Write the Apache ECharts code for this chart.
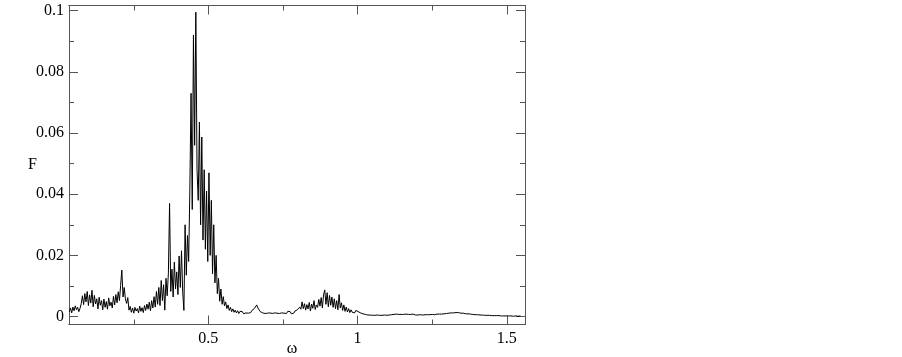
<!DOCTYPE html>
<html>
<head>
<meta charset="utf-8">
<script src="https://cdn.jsdelivr.net/npm/echarts@6/dist/echarts.min.js"></script>
<style>
html,body{margin:0;padding:0;background:#fff;}
#chart{width:902px;height:357px;}
</style>
</head>
<body>
<div id="chart"></div>
<script>
// Frequency grid of the sampled spectrum (uniform sampling in omega)
const omegaStart = 0.034;
const omegaStep = 0.004;

// Spectrum values F(omega), one per grid step
const F = [
  // 0.034 - 0.070
  0.0015, 0.0028, 0.0012, 0.0031, 0.0019, 0.0035, 0.0022, 0.0030, 0.0016, 0.0027,
  // 0.074 - 0.110
  0.0042, 0.0068, 0.0039, 0.0075, 0.0048, 0.0082, 0.0036, 0.0071, 0.0044, 0.0086,
  // 0.114 - 0.150
  0.0032, 0.0069, 0.0041, 0.0058, 0.0025, 0.0063, 0.0037, 0.0052, 0.0022, 0.0057,
  // 0.154 - 0.190
  0.0030, 0.0049, 0.0024, 0.0061, 0.0035, 0.0047, 0.0028, 0.0066, 0.0038, 0.0072,
  // 0.194 - 0.230
  0.0045, 0.0081, 0.0052, 0.0102, 0.0152, 0.0064, 0.0095, 0.0058, 0.0043, 0.0062,
  // 0.234 - 0.270
  0.0021, 0.0033, 0.0014, 0.0028, 0.0011, 0.0030, 0.0018, 0.0026, 0.0012, 0.0034,
  // 0.274 - 0.310
  0.0017, 0.0029, 0.0013, 0.0036, 0.0020, 0.0041, 0.0024, 0.0047, 0.0019, 0.0052,
  // 0.314 - 0.350
  0.0028, 0.0065, 0.0031, 0.0082, 0.0040, 0.0095, 0.0036, 0.0118, 0.0052, 0.0104,
  // 0.354 - 0.390
  0.0021, 0.0125, 0.0068, 0.0142, 0.0370, 0.0082, 0.0155, 0.0064, 0.0178, 0.0090,
  // 0.394 - 0.430
  0.0146, 0.0072, 0.0198, 0.0095, 0.0215, 0.0080, 0.0020, 0.0300, 0.0135, 0.0265,
  // 0.434 - 0.470
  0.0180, 0.0420, 0.0730, 0.0350, 0.0920, 0.0560, 0.0995, 0.0480, 0.0380, 0.0636,
  // 0.474 - 0.510
  0.0300, 0.0587, 0.0250, 0.0480, 0.0220, 0.0410, 0.0180, 0.0470, 0.0200, 0.0380,
  // 0.514 - 0.550
  0.0140, 0.0300, 0.0110, 0.0200, 0.0075, 0.0125, 0.0050, 0.0090, 0.0040, 0.0065,
  // 0.554 - 0.590
  0.0035, 0.0048, 0.0026, 0.0038, 0.0020, 0.0030, 0.0016, 0.0025, 0.0014, 0.0021,
  // 0.594 - 0.630
  0.0012, 0.0019, 0.0010, 0.0017, 0.0011, 0.0016, 0.0009, 0.0015, 0.0012, 0.0018,
  // 0.634 - 0.670
  0.0011, 0.0017, 0.0013, 0.0020, 0.0016, 0.0026, 0.0022, 0.0038, 0.0028, 0.0024,
  // 0.674 - 0.710
  0.0016, 0.0021, 0.0012, 0.0018, 0.0010, 0.0016, 0.0011, 0.0017, 0.0012, 0.0015,
  // 0.714 - 0.750
  0.0010, 0.0016, 0.0012, 0.0017, 0.0011, 0.0014, 0.0010, 0.0016, 0.0012, 0.0018,
  // 0.754 - 0.790
  0.0011, 0.0015, 0.0010, 0.0017, 0.0012, 0.0016, 0.0009, 0.0015, 0.0011, 0.0018,
  // 0.794 - 0.830
  0.0014, 0.0022, 0.0017, 0.0031, 0.0024, 0.0048, 0.0026, 0.0042, 0.0021, 0.0039,
  // 0.834 - 0.870
  0.0025, 0.0046, 0.0018, 0.0041, 0.0027, 0.0052, 0.0023, 0.0038, 0.0030, 0.0056,
  // 0.874 - 0.910
  0.0034, 0.0062, 0.0028, 0.0071, 0.0087, 0.0040, 0.0078, 0.0032, 0.0069, 0.0037,
  // 0.914 - 0.950
  0.0064, 0.0030, 0.0058, 0.0026, 0.0052, 0.0022, 0.0072, 0.0028, 0.0045, 0.0020,
  // 0.954 - 0.990
  0.0038, 0.0017, 0.0031, 0.0015, 0.0026, 0.0013, 0.0022, 0.0014, 0.0019, 0.0012,
  // 0.994 - 1.030
  0.0020, 0.0024, 0.0016, 0.0019, 0.0012, 0.0014, 0.0009, 0.0011, 0.0007, 0.0009,
  // 1.034 - 1.070
  0.0005, 0.0009, 0.0005, 0.0008, 0.0004, 0.0007, 0.0004, 0.0007, 0.0005, 0.0008,
  // 1.074 - 1.110
  0.0004, 0.0007, 0.0004, 0.0008, 0.0005, 0.0007, 0.0004, 0.0009, 0.0005, 0.0006,
  // 1.114 - 1.150
  0.0006, 0.0004, 0.0007, 0.0004, 0.0008, 0.0005, 0.0007, 0.0004, 0.0007, 0.0005,
  // 1.154 - 1.190
  0.0007, 0.0004, 0.0008, 0.0005, 0.0007, 0.0004, 0.0007, 0.0005, 0.0008, 0.0005,
  // 1.194 - 1.230
  0.0005, 0.0008, 0.0005, 0.0009, 0.0006, 0.0008, 0.0005, 0.0009, 0.0006, 0.0010,
  // 1.234 - 1.270
  0.0006, 0.0009, 0.0006, 0.0010, 0.0007, 0.0009, 0.0006, 0.0011, 0.0008, 0.0010,
  // 1.274 - 1.310
  0.0008, 0.0011, 0.0008, 0.0012, 0.0009, 0.0013, 0.0010, 0.0014, 0.0011, 0.0015,
  // 1.314 - 1.350
  0.0012, 0.0016, 0.0012, 0.0017, 0.0013, 0.0018, 0.0013, 0.0016, 0.0011, 0.0015,
  // 1.354 - 1.390
  0.0011, 0.0014, 0.0009, 0.0013, 0.0009, 0.0012, 0.0008, 0.0011, 0.0007, 0.0010,
  // 1.394 - 1.430
  0.0006, 0.0009, 0.0006, 0.0008, 0.0005, 0.0008, 0.0005, 0.0007, 0.0004, 0.0007,
  // 1.434 - 1.470
  0.0004, 0.0007, 0.0004, 0.0006, 0.0003, 0.0006, 0.0003, 0.0005, 0.0003, 0.0005,
  // 1.474 - 1.510
  0.0003, 0.0005, 0.0002, 0.0005, 0.0002, 0.0004, 0.0002, 0.0004, 0.0002, 0.0004,
  // 1.514 - 1.546
  0.0002, 0.0004, 0.0001, 0.0004, 0.0002, 0.0003, 0.0001, 0.0003, 0.0002
];

// Tick positions
const xMajorTicks = [0.5, 1, 1.5];
const xMinorTicks = [0.25, 0.75, 1.25];
const yMajorTicks = [0, 0.02, 0.04, 0.06, 0.08, 0.1];
const yMinorTicks = [0.01, 0.03, 0.05, 0.07, 0.09];

// Axis ranges
const xRange = [0.033, 1.561];
const yRange = [-0.0026, 0.1017];

const seriesData = F.map((v, i) => [+(omegaStart + i * omegaStep).toFixed(4), v]);

const FONT = '"Liberation Serif", "DejaVu Serif", "Times New Roman", serif';
const AXIS_COLOR = '#555';

function xAx(pos, ticks, len, labels, extra) {
  return Object.assign({
    type: 'value', position: pos, min: xRange[0], max: xRange[1],
    axisLine: { show: true, onZero: false, lineStyle: { color: AXIS_COLOR, width: 1 } },
    axisTick: { show: true, inside: true, length: len, customValues: ticks, lineStyle: { color: AXIS_COLOR, width: 1 } },
    axisLabel: labels ? { show: true, customValues: ticks, color: '#000', fontFamily: FONT, fontSize: 16, margin: 6 } : { show: false },
    splitLine: { show: false }
  }, extra || {});
}
function yAx(pos, ticks, len, labels, extra) {
  return Object.assign({
    type: 'value', position: pos, min: yRange[0], max: yRange[1],
    axisLine: { show: true, onZero: false, lineStyle: { color: AXIS_COLOR, width: 1 } },
    axisTick: { show: true, inside: true, length: len, customValues: ticks, lineStyle: { color: AXIS_COLOR, width: 1 } },
    axisLabel: labels ? { show: true, customValues: ticks, color: '#000', fontFamily: FONT, fontSize: 16, margin: 5 } : { show: false },
    splitLine: { show: false }
  }, extra || {});
}

const chart = echarts.init(document.getElementById('chart'), null, { renderer: 'canvas' });
chart.setOption({
  animation: false,
  backgroundColor: '#fff',
  grid: { left: 69, top: 5.5, width: 456, height: 319, containLabel: false, outerBoundsMode: 'none' },
  xAxis: [
    xAx('bottom', xMajorTicks, 9, true, {
      name: 'ω', nameLocation: 'middle', nameGap: 16, nameMoveOverlap: false,
      nameTextStyle: { color: '#000', fontFamily: FONT, fontSize: 16, padding: [0, 10, 0, 0] }
    }),
    xAx('bottom', xMinorTicks, 5, false),
    xAx('top', xMajorTicks, 9, false),
    xAx('top', xMinorTicks, 5, false)
  ],
  yAxis: [
    yAx('left', yMajorTicks, 9, true, {
      name: 'F', nameLocation: 'middle', nameRotate: 0, nameGap: 32, nameMoveOverlap: false,
      nameTextStyle: { color: '#000', fontFamily: FONT, fontSize: 16, padding: [0, 0, 16, 0] }
    }),
    yAx('left', yMinorTicks, 5, false),
    yAx('right', yMajorTicks, 9, false),
    yAx('right', yMinorTicks, 5, false)
  ],
  series: [{
    type: 'line',
    xAxisIndex: 0,
    yAxisIndex: 0,
    data: seriesData,
    showSymbol: false,
    symbol: 'none',
    lineStyle: { color: '#000', width: 1 },
    clip: true
  }]
});
</script>
</body>
</html>
